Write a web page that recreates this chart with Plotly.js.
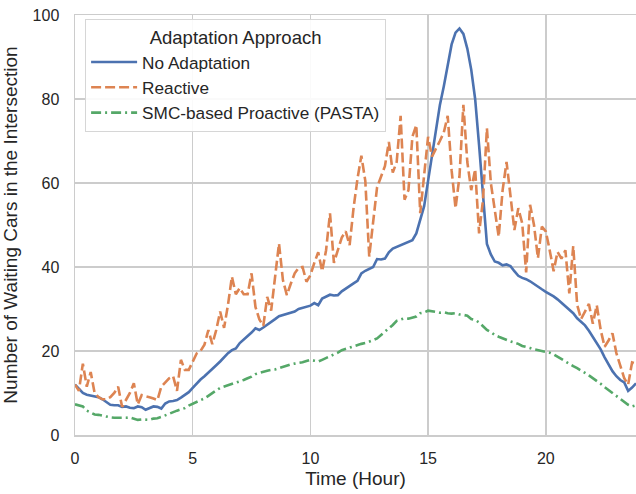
<!DOCTYPE html>
<html>
<head>
<meta charset="utf-8">
<script src="https://cdn.plot.ly/plotly-3.0.1.min.js"></script>
<style>html,body{margin:0;padding:0;background:#fff}#chart{width:636px;height:494px}</style>
</head>
<body>
<div id="chart"></div>
<script>
// time step: 10 minutes, 144 samples (hours = i/6)
const stepsPerHour = 6;
const noAdaptation = [
12,11,10,9.6,9.4,9.2,9,8.5,7.8,7.2,7.1,7.1,6.7,6.8,6.5,6.4,6.8,6.6,6.0,6.4,6.8,6.7,6.3,7.5,
8.0,8.1,8.3,8.9,9.5,10.2,11.2,12.3,13.2,14,14.8,15.7,16.6,17.5,18.5,19.5,20.2,20.6,21.9,22.7,23.4,24.4,25.4,25,
25.6,26.2,26.9,27.6,28.3,28.6,28.8,29.1,29.4,30,30.3,30.5,30.8,31.4,30.9,32.5,33,33.4,33.2,33.3,34.2,34.9,35.5,36.1,
36.7,38.5,39.1,39.6,40,41.9,41.8,42,43.5,44.4,44.8,45.2,45.6,46,46.4,48,51,54.5,60.5,66.5,73,78.5,83,88.5,
93,95.8,96.8,95.5,92,87,80,69,57,45.5,43,41.3,41.0,40.4,40.6,40.2,39,37.9,37.4,37.1,36.6,35.9,35.3,34.7,
34.1,33.6,33.0,32.3,31.5,30.6,30,29,27.8,27,26.1,24.8,23.4,21.9,20.4,18.5,16.8,15.2,14,13.1,12.5,10.5,11.3,12.3
];
const reactive = [
12,10.5,17,11.5,15,10,9,8.5,8.5,9,10,11.5,6.7,8.3,10,12.3,7.3,9.5,9.3,9,8.7,8.3,11.5,12.5,
13.5,14,10.5,17.9,15.5,15.5,17.5,19.4,20,21.5,25,21.6,25,29.4,25.5,31,37.7,33.5,35,33.5,33.5,38.5,30.5,27.5,
26,32.9,29.6,37,45.6,36.9,33.3,36,38.5,39.8,40,36.5,38,41,43.5,39,44,52.8,41,44,47,48.5,45.2,54,
61,66.5,60.5,42.5,51,59,61.5,64,69.8,62.5,65,76,56,58.3,71,73.8,52.8,62,71,66.3,68,70,72,76,
63,54,61.5,78.6,65,58.3,63.3,48,56,73,60,54,47.2,58.3,65,57,48.8,54,50.4,38.7,54.8,50,42.1,49.6,
48.5,44,39,43.6,42,44,33.7,45,31,27.6,29.5,31.2,26.5,30.9,25,21,22.5,24.2,19.5,16.5,13.5,12,17.3,17
];
const proactive = [
7.3,7.1,6.8,5.8,5.4,4.9,4.8,4.6,4.3,4.2,4.1,4.1,4.0,4.1,4.2,3.9,3.6,3.7,3.6,3.6,3.9,4.0,4.3,4.7,
5.0,5.4,5.8,6.1,6.4,7.0,7.5,7.9,8.3,8.7,9.4,10.1,10.6,11.2,11.5,11.9,12.2,12.4,12.8,13.1,13.5,13.9,14.5,14.8,
15.1,15.3,15.5,15.6,15.9,16.2,16.6,16.8,17.0,17.1,17.3,17.6,17.9,17.7,17.5,17.9,18.3,18.7,19.1,19.6,20.2,20.5,20.8,21.2,
21.4,21.7,21.9,22.2,22.6,23.0,23.8,24.6,25.2,26.2,27.2,27.5,27.8,27.7,27.9,28.2,29.0,29.2,29.6,29.5,29.3,29.1,29.2,29.0,
28.9,29.0,28.7,28.6,28.4,27.6,27.4,26.8,25.8,25.0,24.5,23.8,23.4,23.0,22.7,22.3,22.0,21.7,21.2,21.0,20.7,20.4,20.2,20.0,
19.9,19.6,19.2,18.6,18.0,17.4,16.9,16.4,15.9,15.4,14.8,14.2,13.6,12.9,12.2,11.4,10.7,10.0,9.2,8.5,7.8,7.2,6.8,7.1
];
const seriesNames = ["No Adaptation", "Reactive", "SMC-based Proactive (PASTA)"];
const xTicks = [0, 5, 10, 15, 20];
const yTicks = [0, 20, 40, 60, 80, 100];

const hours = noAdaptation.map((_, i) => i / stepsPerHour);
const FONT = "Liberation Sans, Arial, sans-serif";

const traces = [
  {x: hours, y: noAdaptation, name: seriesNames[0], mode: "lines",
   line: {color: "#4c72b0", width: 2.6, dash: "solid"}},
  {x: hours, y: reactive, name: seriesNames[1], mode: "lines",
   line: {color: "#dd8452", width: 2.6, dash: "10px,4px"}},
  {x: hours, y: proactive, name: seriesNames[2], mode: "lines",
   line: {color: "#55a868", width: 2.6, dash: "10px,4px,2px,4px"}}
];

const layout = {
  width: 636, height: 494,
  margin: {l: 75, r: 0, t: 15, b: 59},
  paper_bgcolor: "#fff", plot_bgcolor: "#fff",
  font: {family: FONT, size: 16, color: "#262626"},
  showlegend: true,
  legend: {
    x: 0.018, y: 0.99, xanchor: "left", yanchor: "top",
    bgcolor: "rgba(255,255,255,0.9)", bordercolor: "#d6d6d6", borderwidth: 1,
    font: {family: FONT, size: 17.2, color: "#262626"},
    title: {text: "Adaptation Approach", side: "top center", font: {family: FONT, size: 18.5, color: "#262626"}},
    itemwidth: 46, tracegroupgap: 0
  },
  xaxis: {
    range: [0, (noAdaptation.length - 1) / stepsPerHour],
    tickvals: xTicks, ticktext: xTicks.map(String),
    showgrid: true, gridcolor: "#cccccc", gridwidth: 1.5,
    zeroline: false, showline: true, linecolor: "#cccccc", linewidth: 1.5, mirror: true,
    ticks: "outside", ticklen: 8, tickcolor: "rgba(0,0,0,0)",
    tickfont: {family: FONT, size: 16, color: "#262626"},
    title: {text: "Time (Hour)", font: {family: FONT, size: 19, color: "#262626"}, standoff: 6}
  },
  yaxis: {
    range: [0, 100],
    tickvals: yTicks, ticktext: yTicks.map(String),
    showgrid: true, gridcolor: "#cccccc", gridwidth: 1.5,
    zeroline: false, showline: true, linecolor: "#cccccc", linewidth: 1.5, mirror: true,
    ticks: "outside", ticklen: 11, tickcolor: "rgba(0,0,0,0)",
    tickfont: {family: FONT, size: 16, color: "#262626"},
    title: {text: "Number of Waiting Cars in the Intersection", font: {family: FONT, size: 19, color: "#262626"}, standoff: 10}
  }
};

Plotly.newPlot("chart", traces, layout, {displayModeBar: false, staticPlot: true});
</script>
</body>
</html>
